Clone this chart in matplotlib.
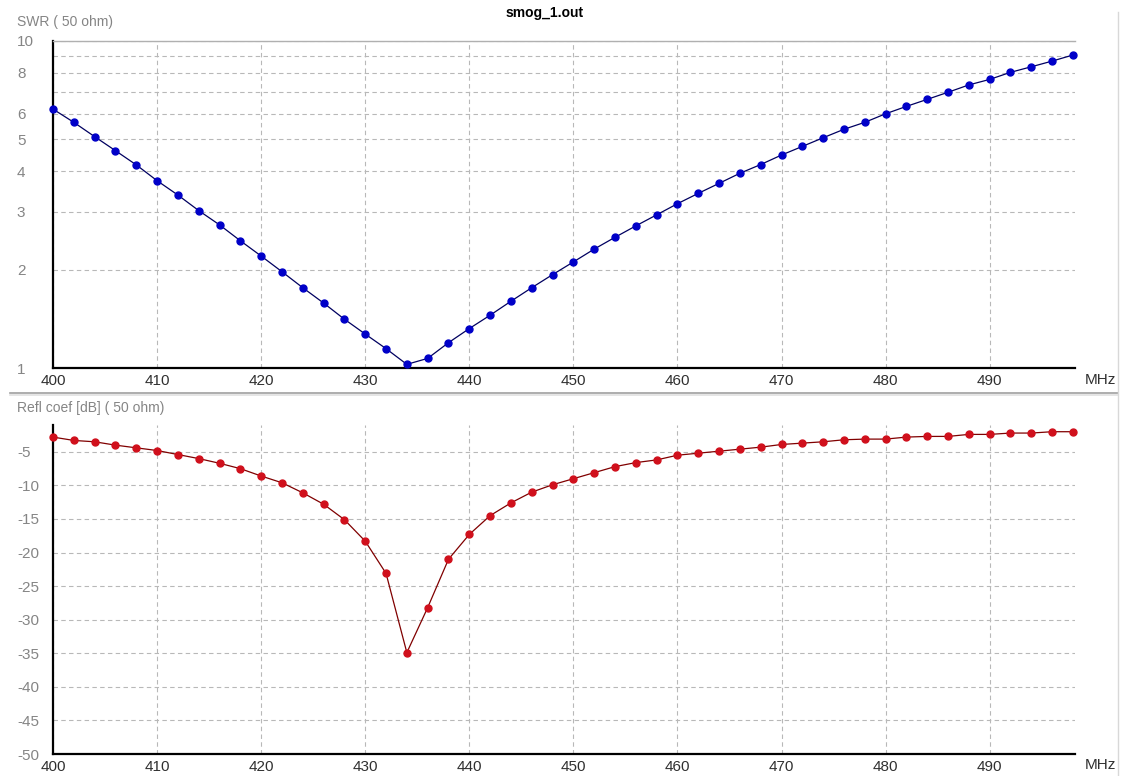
import matplotlib
matplotlib.use("Agg")
from matplotlib import pyplot as plt
from matplotlib.ticker import FixedLocator, NullFormatter

plt.rcParams['font.family'] = ['Liberation Sans', 'DejaVu Sans']
plt.rcParams['axes.unicode_minus'] = False

# data ------------------------------------------------------------------
freq_mhz = [400, 402, 404, 406, 408, 410, 412, 414, 416, 418,
            420, 422, 424, 426, 428, 430, 432, 434, 436, 438,
            440, 442, 444, 446, 448, 450, 452, 454, 456, 458,
            460, 462, 464, 466, 468, 470, 472, 474, 476, 478,
            480, 482, 484, 486, 488, 490, 492, 494, 496, 498]

swr = [6.19, 5.64, 5.10, 4.62, 4.18, 3.74, 3.38, 3.03, 2.74, 2.45,
       2.20, 1.97, 1.76, 1.58, 1.41, 1.27, 1.146, 1.026, 1.07, 1.195,
       1.32, 1.45, 1.60, 1.76, 1.93, 2.11, 2.31, 2.51, 2.72, 2.94,
       3.18, 3.42, 3.67, 3.94, 4.19, 4.48, 4.76, 5.06, 5.37, 5.64,
       5.99, 6.31, 6.63, 6.97, 7.34, 7.63, 8.02, 8.34, 8.68, 9.06]

refl_db = [-2.8, -3.3, -3.5, -4.0, -4.4, -4.8, -5.4, -6.0, -6.7, -7.5,
           -8.6, -9.6, -11.1, -12.8, -15.1, -18.3, -23.1, -34.9, -28.2, -21.0,
           -17.3, -14.5, -12.6, -11.0, -9.9, -9.0, -8.1, -7.2, -6.6, -6.2,
           -5.5, -5.2, -4.9, -4.6, -4.3, -3.9, -3.7, -3.5, -3.2, -3.1,
           -3.1, -2.8, -2.7, -2.7, -2.4, -2.4, -2.2, -2.2, -2.0, -2.0]

x_ticks = [400, 410, 420, 430, 440, 450, 460, 470, 480, 490]
swr_ticks = [1, 2, 3, 4, 5, 6, 8, 10]
swr_minor = [7, 9]
db_ticks = [-5, -10, -15, -20, -25, -30, -35, -40, -45, -50]

W, H = 1122, 776
fig = plt.figure(figsize=(W / 100, H / 100), dpi=100)


def px_axes(left, top, right, bottom):
    return fig.add_axes([left / W, 1 - bottom / H, (right - left) / W, (bottom - top) / H])


grid_kw = dict(color='#b8b8b8', linestyle=(0, (4, 3)), linewidth=0.8)
ylab_col = '#858585'
xlab_col = '#303030'

# SWR panel
ax1 = px_axes(53, 41, 1075, 368)
ax1.plot(freq_mhz, swr, color='#000060', lw=0.9, marker='o', ms=5.0,
         mfc='#0000c8', mec='#0000c8', zorder=3, clip_on=False)
ax1.set_yscale('log')
ax1.set_ylim(1, 10)
ax1.set_xlim(400, 498.2)
ax1.yaxis.set_major_locator(FixedLocator(swr_ticks))
ax1.set_yticklabels([str(t) for t in swr_ticks])
ax1.yaxis.set_minor_locator(FixedLocator(swr_minor))
ax1.yaxis.set_minor_formatter(NullFormatter())
ax1.set_xticks(x_ticks)
ax1.grid(True, which='both', **grid_kw)
ax1.tick_params(which='both', length=0)

# reflection coefficient panel
ax2 = px_axes(53, 425, 1075, 754)
ax2.plot(freq_mhz, refl_db, color='#800000', lw=0.9, marker='o', ms=5.0,
         mfc='#d0101c', mec='#d0101c', zorder=3, clip_on=False)
ax2.set_ylim(-50, -1)
ax2.set_xlim(400, 498.2)
ax2.set_yticks(db_ticks)
ax2.set_xticks(x_ticks)
ax2.grid(True, **grid_kw)
ax2.tick_params(length=0)

for ax in (ax1, ax2):
    ax.spines['right'].set_visible(False)
    ax.spines['left'].set_color('black')
    ax.spines['left'].set_linewidth(1.6)
    ax.spines['bottom'].set_color('black')
    ax.spines['bottom'].set_linewidth(1.6)
    ax.set_axisbelow(True)
    ax.tick_params(axis='y', labelsize=11, labelcolor=ylab_col, pad=26)
    ax.tick_params(axis='x', labelsize=11, labelcolor=xlab_col, pad=4)
    for lab in ax.get_yticklabels():
        lab.set_horizontalalignment('left')

ax1.spines['top'].set_color('#b0b0b0')
ax1.spines['top'].set_linewidth(1.0)
ax2.spines['top'].set_visible(False)

# texts
fig.text(545 / W, 1 - 13 / H, 'smog_1.out', ha='center', va='center',
         fontsize=10, fontweight='bold', color='black')
fig.text(17 / W, 1 - 22 / H, 'SWR ( 50 ohm)', ha='left', va='center',
         fontsize=10, color=ylab_col)
fig.text(17 / W, 1 - 408 / H, 'Refl coef [dB] ( 50 ohm)', ha='left', va='center',
         fontsize=10, color=ylab_col)
fig.text(1100 / W, 1 - 380 / H, 'MHz', ha='center', va='center', fontsize=11, color=xlab_col)
fig.text(1100 / W, 1 - 765 / H, 'MHz', ha='center', va='center', fontsize=11, color=xlab_col)

# panel separator and right frame
fig.add_artist(plt.Line2D([10 / W, 1118 / W], [1 - 393 / H, 1 - 393 / H],
                          color='#a0a0a0', lw=1.2))
fig.add_artist(plt.Line2D([10 / W, 1118 / W], [1 - 395 / H, 1 - 395 / H],
                          color='#e0e0e0', lw=1.2))
fig.add_artist(plt.Line2D([1118 / W, 1118 / W], [0, 1 - 12 / H],
                          color='#d8d8d8', lw=1.0))

fig.savefig('out.png', dpi=100)
